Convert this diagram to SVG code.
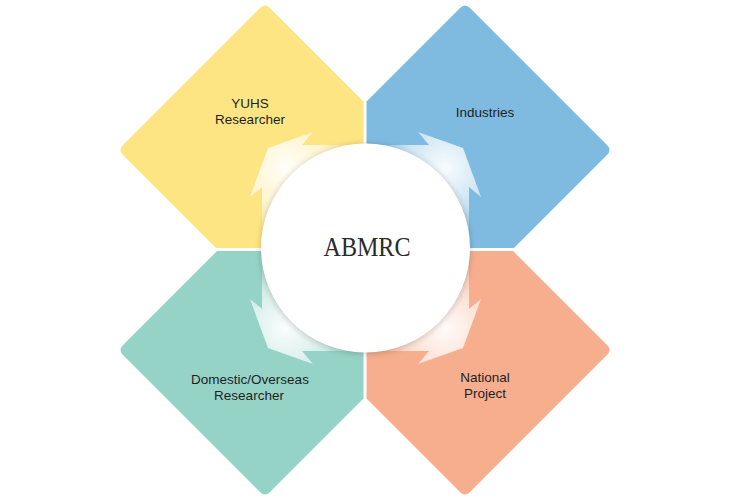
<svg xmlns="http://www.w3.org/2000/svg" width="730" height="503" viewBox="0 0 730 503">
<defs>
<style>
.lbl{font-family:"Liberation Sans",Arial,sans-serif;font-size:13.5px;fill:#1e1e1e;text-anchor:middle}
.ttl{font-family:"Liberation Serif","Times New Roman",serif;font-size:26.5px;fill:#2b2b2b;text-anchor:middle}
</style>
<radialGradient id="glow" gradientUnits="userSpaceOnUse" cx="286" cy="168" r="78">
<stop offset="0" stop-color="#fff" stop-opacity="0.95"/>
<stop offset="0.55" stop-color="#fff" stop-opacity="0.6"/>
<stop offset="1" stop-color="#fff" stop-opacity="0"/>
</radialGradient>
<filter id="sh" x="-20%" y="-20%" width="140%" height="140%">
<feGaussianBlur stdDeviation="3"/>
</filter>
<path id="arw" d="M363.5,145 L302,145 L313,132 L268,148 L250,197 L262,187 L262,248 L363.5,248 Z"/>
</defs>
<rect width="730" height="503" fill="#fff"/>
<g id="node-yuhs">
<path d="M260,8 Q265,3 270,8 L363.5,101.5 L363.5,248 L216,248 L123,155 Q118,150 123,145 Z" fill="#fee583"/>
<text class="lbl" x="250" y="108">YUHS</text>
<text class="lbl" x="250" y="124">Researcher</text>
</g>
<g id="node-industries">
<path d="M460,8 Q465,3 470,8 L607,145 Q612,150 607,155 L514,248 L366.5,248 L366.5,101.5 Z" fill="#7fbbe0"/>
<text class="lbl" x="485" y="116.5">Industries</text>
</g>
<g id="node-domestic">
<path d="M217,251 L363.5,251 L363.5,398.5 L270,492 Q265,497 260,492 L123,355 Q118,350 123,345 Z" fill="#96d3c7"/>
<text class="lbl" x="250" y="384">Domestic/Overseas</text>
<text class="lbl" x="249" y="400">Researcher</text>
</g>
<g id="node-national">
<path d="M366.5,251 L513,251 L607,345 Q612,350 607,355 L470,492 Q465,497 460,492 L366.5,398.5 Z" fill="#f6ae8f"/>
<text class="lbl" x="485" y="382">National</text>
<text class="lbl" x="485" y="398">Project</text>
</g>
<g id="connectors">
<use href="#arw" fill="url(#glow)"/>
<use href="#arw" fill="url(#glow)" transform="translate(731,0) scale(-1,1)"/>
<use href="#arw" fill="url(#glow)" transform="translate(0,496) scale(1,-1)"/>
<use href="#arw" fill="url(#glow)" transform="translate(731,496) scale(-1,-1)"/>
</g>
<g id="node-abmrc">
<circle cx="365.5" cy="249" r="105" fill="#000" opacity="0.18" filter="url(#sh)"/>
<circle cx="365.5" cy="248" r="104.5" fill="#fff"/>
<text class="ttl" x="367" y="256" textLength="87" lengthAdjust="spacingAndGlyphs">ABMRC</text>
</g>
</svg>
